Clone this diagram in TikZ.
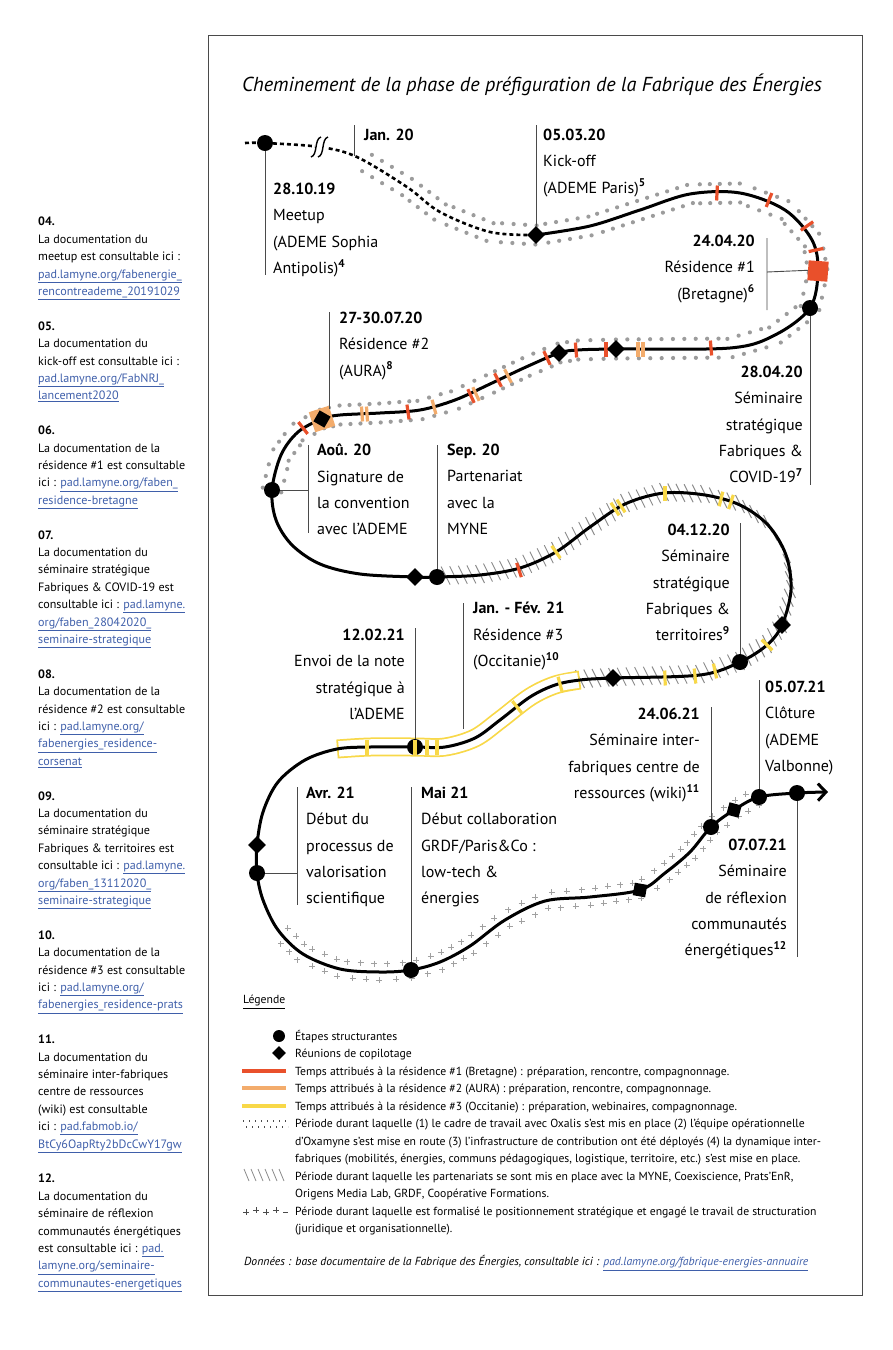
\documentclass[tikz,border=0pt]{standalone}
\usepackage{fontspec}
\setmainfont{PT Sans}
\usetikzlibrary{shapes, shapes.geometric, arrows.meta, positioning}

\definecolor{resBretagne}{HTML}{E9502B}
\definecolor{resAura}{HTML}{F3AC6C}
\definecolor{resOccitanie}{HTML}{F8D848}
\definecolor{lienbleu}{HTML}{3F5FAA}
\definecolor{halogris}{HTML}{9C9C9C}
\definecolor{hachuregris}{HTML}{8A8A8A}
\definecolor{croixgris}{HTML}{A0A0A0}
\definecolor{trait}{HTML}{4A4A4A}

\newcommand{\fontlabel}{\fontsize{16}{26.3}\selectfont}
\newcommand{\fontlegende}{\fontsize{11.7}{17.5}\selectfont}
\newcommand{\fontnotes}{\fontsize{12.1}{17.4}\selectfont}
\newcommand{\lien}[1]{{\color{lienbleu}\underline{#1}}}

\tikzset{
  etape/.style={circle, fill=black, minimum size=16, inner sep=0},
  copil/.style={diamond, fill=black, minimum size=18, inner sep=0},
  tiret/.style={rectangle, inner sep=0, minimum width=3.2, minimum height=15},
  repere/.style={draw=trait, line width=0.9},
  etiq/.style={inner sep=0, font=\fontlabel, align=left, anchor=north west},
  etiqd/.style={inner sep=0, font=\fontlabel, align=right, anchor=north east},
  trace/.style={smooth, tension=0.55}
}

\begin{document}
\begin{tikzpicture}[x=1pt, y=-1pt]
  \useasboundingbox (0,0) rectangle (893,1350);
  \draw[trait, line width=1] (208,35) rectangle (862,1295);
  \node[font=\fontsize{20.2}{24}\selectfont\itshape] (titre) at (532,85) {Cheminement de la phase de préfiguration de la Fabrique des Énergies};

  % periode 1 : points gris de part et d'autre du trace
  \foreach \bx/\by [remember=\bx as \ax (initially 357), remember=\by as \ay (initially 157)] in
    {407/187, 440/212, 490/232, 536/235, 590/226, 640/210, 690/194, 740/193, 785/210, 812/240, 818/271, 810/308,
     775/335, 730/348, 616/349, 578/350, 559/353, 526/367, 490/384, 455/400, 420/410, 380/413, 340/415, 322/419,
     298/432, 281/455, 272/490}{
    \pgfmathsetmacro{\hx}{\bx-\ax}
    \pgfmathsetmacro{\hy}{\by-\ay}
    \pgfmathsetmacro{\seglen}{veclen(\hx,\hy)}
    \pgfmathtruncatemacro{\nb}{max(1,round(\seglen/11))}
    \foreach \k in {1,...,\nb}{
      \fill[halogris] ({\ax+\hx*\k/\nb-9.5*\hy/\seglen},{\ay+\hy*\k/\nb+9.5*\hx/\seglen}) circle (2.1pt);
      \fill[halogris] ({\ax+\hx*\k/\nb+9.5*\hy/\seglen},{\ay+\hy*\k/\nb-9.5*\hx/\seglen}) circle (2.1pt);
    }
  }
  % periode 2 : hachures
  \foreach \bx/\by [remember=\bx as \ax (initially 437), remember=\by as \ay (initially 577)] in
    {480/575, 520/568, 556/552, 590/527, 625/504, 664/493, 705/495, 740/505, 768/525, 786/555, 791/590, 782/625,
     767/645, 740/662, 700/675, 613/678, 580/680}{
    \pgfmathsetmacro{\hx}{\bx-\ax}
    \pgfmathsetmacro{\hy}{\by-\ay}
    \pgfmathsetmacro{\seglen}{veclen(\hx,\hy)}
    \pgfmathtruncatemacro{\nb}{max(1,round(\seglen/8.5))}
    \foreach \k in {1,...,\nb}{
      \draw[hachuregris, line width=0.9] ({\ax+\hx*\k/\nb-4.5},{\ay+\hy*\k/\nb-10}) -- ++(9,18);
    }
  }
  % periode 3 : croix
  \foreach \bx/\by [remember=\bx as \ax (initially 278), remember=\by as \ay (initially 930)] in
    {303/954, 340/969, 380/972, 411/970, 440/962, 470/946, 505/920, 545/901, 590/897, 640/890, 665/873, 690/852,
     711/827, 734/810, 755/798}{
    \pgfmathsetmacro{\hx}{\bx-\ax}
    \pgfmathsetmacro{\hy}{\by-\ay}
    \pgfmathsetmacro{\seglen}{veclen(\hx,\hy)}
    \pgfmathtruncatemacro{\nb}{max(1,round(\seglen/13))}
    \foreach \k in {1,...,\nb}{
      \draw[croixgris, line width=0.7] ({\ax+\hx*\k/\nb-8*\hy/\seglen-3},{\ay+\hy*\k/\nb+8*\hx/\seglen}) -- ++(6,0) ++(-3,-3) -- ++(0,6);
      \draw[croixgris, line width=0.7] ({\ax+\hx*(\k-0.5)/\nb+8*\hy/\seglen-3},{\ay+\hy*(\k-0.5)/\nb-8*\hx/\seglen}) -- ++(6,0) ++(-3,-3) -- ++(0,6);
    }
  }
  % residence 3 : bande jaune
  \draw[resOccitanie, line width=19] plot[trace] coordinates {(580,680) (555,685) (530,697) (500,720) (475,738) (445,747) (415,747) (370,747) (337,749)};
  \draw[white, line width=15.5, shorten <=1.8pt, shorten >=1.8pt] plot[trace] coordinates {(580,680) (555,685) (530,697) (500,720) (475,738) (445,747) (415,747) (370,747) (337,749)};

  % le trace
  \draw[line width=2.6, dash pattern=on 4pt off 3pt] plot[trace] coordinates {(245,143) (265,143) (320,147) (357,157) (407,187) (440,212) (490,232) (536,235)};
  \draw[line width=3, -{Straight Barb[length=8pt, width=17pt]}] plot[trace] coordinates {(536,235) (590,226) (640,210) (690,194) (740,193) (785,210) (812,240) (818,271) (810,308) (775,335) (730,348) (616,349) (578,350) (559,353) (526,367) (490,384) (455,400) (420,410) (380,413) (340,415) (322,419) (298,432) (281,455) (272,490) (276,520) (292,545) (320,564) (360,574) (415,577) (437,577) (480,575) (520,568) (556,552) (590,527) (625,504) (664,493) (705,495) (740,505) (768,525) (786,555) (791,590) (782,625) (767,645) (740,662) (700,675) (613,678) (580,680) (555,685) (530,697) (500,720) (475,738) (445,747) (415,747) (370,747) (337,749) (305,760) (278,782) (263,812) (257,845) (257,873) (263,900) (278,930) (303,954) (340,969) (380,972) (411,970) (440,962) (470,946) (505,920) (545,901) (590,897) (640,890) (665,873) (690,852) (711,827) (734,810) (759,797) (797,793) (828,792)};
  \fill[white] (315,139) rectangle (326,156);
  \draw[line width=1.4] (311,157) .. controls (318,155) and (314,139) .. (321,137)
                        (318,157) .. controls (325,155) and (321,139) .. (328,137);

  % temps des residences
  \node[tiret, fill=resBretagne, rotate=-3] (rb1) at (717,193) {};
  \node[tiret, fill=resBretagne, rotate=-22] (rb2) at (769,200) {};
  \node[tiret, fill=resBretagne, rotate=-55] (rb3) at (807,226) {};
  \node[tiret, fill=resBretagne, rotate=-78] (rb4) at (816,250) {};
  \node[tiret, fill=resBretagne, rotate=5] (rb5) at (711,348) {};
  \node[tiret, fill=resBretagne] (rb6) at (606,349) {};
  \node[tiret, fill=resBretagne, rotate=5] (rb7) at (576,350) {};
  \node[tiret, fill=resBretagne, rotate=25] (rb8) at (547,358) {};
  \node[tiret, fill=resBretagne, rotate=27] (rb9) at (498,380) {};
  \node[tiret, fill=resBretagne, rotate=25] (rb10) at (471,396) {};
  \node[tiret, fill=resBretagne, rotate=8] (rb11) at (408,412) {};
  \node[tiret, fill=resBretagne, rotate=38] (rb12) at (303,428) {};
  \node[tiret, fill=resBretagne, rotate=18] (rb13) at (519,570) {};
  \node[tiret, fill=resAura] (ra1) at (638,349) {};
  \node[tiret, fill=resAura] (ra2) at (643,349) {};
  \node[tiret, fill=resAura, rotate=27] (ra3) at (508,376) {};
  \node[tiret, fill=resAura, rotate=25] (ra4) at (476,394) {};
  \node[tiret, fill=resAura, rotate=15] (ra5) at (434,407) {};
  \node[tiret, fill=resAura, rotate=4] (ra6) at (362,414) {};
  \node[tiret, fill=resAura, rotate=4] (ra7) at (367,414) {};
  \node[tiret, fill=resOccitanie, rotate=35] (ro1) at (556,552) {};
  \node[tiret, fill=resOccitanie, rotate=33] (ro2) at (615,509) {};
  \node[tiret, fill=resOccitanie, rotate=33] (ro3) at (621,506) {};
  \node[tiret, fill=resOccitanie] (ro4) at (665,493) {};
  \node[tiret, fill=resOccitanie, rotate=-14] (ro5) at (721,499) {};
  \node[tiret, fill=resOccitanie, rotate=-18] (ro6) at (731,502) {};
  \node[tiret, fill=resOccitanie, rotate=45] (ro7) at (767,645) {};
  \node[tiret, fill=resOccitanie, rotate=12] (ro8) at (715,671) {};
  \node[tiret, fill=resOccitanie, rotate=6] (ro9) at (695,676) {};
  \node[tiret, fill=resOccitanie, rotate=2] (ro10) at (665,678) {};
  \node[tiret, fill=resOccitanie, rotate=15] (ro11) at (560,684) {};
  \node[tiret, fill=resOccitanie, rotate=38] (ro12) at (517,707) {};
  \node[tiret, fill=resOccitanie] (ro13) at (437,747) {};
  \node[tiret, fill=resOccitanie] (ro14) at (427,747) {};
  \node[tiret, fill=resOccitanie] (ro15) at (367,747) {};

  % etapes et reunions
  \node[etape] (meetup) at (265,143) {};
  \node[copil] (kickoff) at (536,235) {};
  \node[rectangle, fill=resBretagne, minimum size=20, inner sep=0, rotate=-4] (bretagne) at (818,271) {};
  \node[etape] (covid) at (810,308) {};
  \node[copil] (copilA) at (616,349) {};
  \node[copil] (copilB) at (559,353) {};
  \node[rectangle, fill=resAura, minimum size=21, inner sep=0, rotate=18] (aura) at (322,419) {};
  \node[copil, rotate=15] (copilC) at (322,419) {};
  \node[etape] (convention) at (272,490) {};
  \node[copil] (copilD) at (415,577) {};
  \node[etape] (myne) at (437,577) {};
  \node[copil] (copilE) at (782,625) {};
  \node[etape] (territoires) at (740,662) {};
  \node[copil] (copilF) at (613,678) {};
  \node[etape] (note) at (415,747) {};
  \node[tiret, fill=resOccitanie] (noteoc) at (415,747) {};
  \node[copil] (copilG) at (257,845) {};
  \node[etape] (valorisation) at (257,873) {};
  \node[etape] (grdf) at (411,970) {};
  \node[copil, rotate=35] (copilH) at (640,890) {};
  \node[etape] (wiki) at (711,827) {};
  \node[copil, rotate=30] (copilI) at (734,810) {};
  \node[etape] (cloture) at (759,797) {};
  \node[etape] (reflexion) at (797,793) {};

  % reperes
  \coordinate (meetupbas) at (265,275);
  \coordinate (janhaut) at (354,125);
  \coordinate (janbas) at (354,156);
  \coordinate (kickhaut) at (536,125);
  \coordinate (bretcoin) at (767,272);
  \coordinate (brethaut) at (767,238);
  \coordinate (bretbas) at (767,310);
  \coordinate (covidbas) at (810,485);
  \coordinate (aurahaut) at (329,312);
  \coordinate (aurabas) at (329,409);
  \coordinate (aoutcoin) at (308,490);
  \coordinate (aouthaut) at (308,445);
  \coordinate (aoutbas) at (308,533);
  \coordinate (mynehaut) at (437,445);
  \coordinate (terrhaut) at (740,523);
  \coordinate (occhaut) at (463,603);
  \coordinate (occbas) at (463,729);
  \coordinate (notehaut) at (415,628);
  \coordinate (wikihaut) at (711,707);
  \coordinate (clothaut) at (759,680);
  \coordinate (avrcoin) at (297,873);
  \coordinate (avrhaut) at (297,787);
  \coordinate (avrbas) at (297,905);
  \coordinate (grdfhaut) at (411,787);
  \coordinate (reflbas) at (797,957);
  \draw[repere] (meetup.south) -- (meetupbas);
  \draw[repere] (janhaut) -- (janbas);
  \draw[repere] (kickoff.north) -- (kickhaut);
  \draw[repere] (brethaut) -- (bretbas) (bretcoin) -- (bretagne.west);
  \draw[repere] (covid.south) -- (covidbas);
  \draw[repere] (aurahaut) -- (aurabas);
  \draw[repere] (convention.east) -- (aoutcoin) (aouthaut) -- (aoutbas);
  \draw[repere] (myne.north) -- (mynehaut);
  \draw[repere] (territoires.north) -- (terrhaut);
  \draw[repere] (occhaut) -- (occbas);
  \draw[repere] (note.north) -- (notehaut);
  \draw[repere] (wiki.north) -- (wikihaut);
  \draw[repere] (cloture.north) -- (clothaut);
  \draw[repere] (valorisation.east) -- (avrcoin) (avrhaut) -- (avrbas);
  \draw[repere] (grdf.north) -- (grdfhaut);
  \draw[repere] (reflexion.south) -- (reflbas);

  % textes
  \node[etiq] (t-meetup) at (273,183) {\textbf{28.10.19}\\Meetup\\(ADEME Sophia\\Antipolis)\textsuperscript{\textbf{4}}};
  \node[etiq] (t-jan) at (364,129) {\textbf{Jan. 20}};
  \node[etiq] (t-kickoff) at (543,129) {\textbf{05.03.20}\\Kick-off\\(ADEME Paris)\textsuperscript{\textbf{5}}};
  \node[etiqd] (t-bretagne) at (755,235) {\textbf{24.04.20}\\Résidence \#1\\(Bretagne)\textsuperscript{\textbf{6}}};
  \node[etiqd] (t-covid) at (803,366) {\textbf{28.04.20}\\Séminaire\\stratégique\\Fabriques \&\\COVID-19\textsuperscript{\textbf{7}}};
  \node[etiq] (t-aura) at (339,312) {\textbf{27-30.07.20}\\Résidence \#2\\(AURA)\textsuperscript{\textbf{8}}};
  \node[etiq] (t-convention) at (317,444) {\textbf{Aoû. 20}\\Signature de\\la convention\\avec l’ADEME};
  \node[etiq] (t-myne) at (447,444) {\textbf{Sep. 20}\\Partenariat\\avec la\\MYNE};
  \node[etiqd] (t-territoires) at (730,524) {\textbf{04.12.20}\\Séminaire\\stratégique\\Fabriques \&\\territoires\textsuperscript{\textbf{9}}};
  \node[etiq] (t-occitanie) at (473,602) {\textbf{Jan. - Fév. 21}\\Résidence \#3\\(Occitanie)\textsuperscript{\textbf{10}}};
  \node[etiqd] (t-note) at (405,629) {\textbf{12.02.21}\\Envoi de la note\\stratégique à\\l’ADEME};
  \node[etiqd] (t-wiki) at (700,708) {\textbf{24.06.21}\\Séminaire inter-\\fabriques centre de\\ressources (wiki)\textsuperscript{\textbf{11}}};
  \node[etiq] (t-cloture) at (765,681) {\textbf{05.07.21}\\Clôture\\(ADEME\\Valbonne)};
  \node[etiq] (t-valorisation) at (306,787) {\textbf{Avr. 21}\\Début du\\processus de\\valorisation\\scientifique};
  \node[etiq] (t-grdf) at (421,787) {\textbf{Mai 21}\\Début collaboration\\GRDF/Paris\&Co :\\low-tech \&\\énergies};
  \node[etiqd] (t-reflexion) at (787,839) {\textbf{07.07.21}\\Séminaire\\de réflexion\\communautés\\énergétiques\textsuperscript{\textbf{12}}};

  % legende
  \node[font=\fontlegende, anchor=west, inner sep=0] (legende) at (243,1002) {\underline{Légende}};
  \node[etape, minimum size=12] (leg-etape) at (279,1036) {};
  \node[copil, minimum size=14] (leg-copil) at (279,1053) {};
  \draw[resBretagne, line width=4] (242,1071) -- (286,1071);
  \draw[resAura, line width=4] (242,1088) -- (286,1088);
  \draw[resOccitanie, line width=4] (242,1106) -- (286,1106);
  \draw[trait, line width=1.3, dash pattern=on 1.3pt off 4.7pt] (243,1121) -- (288,1121);
  \draw[trait, line width=1.3, dash pattern=on 1.3pt off 4.7pt, dash phase=3pt] (243,1127) -- (288,1127);
  \draw[hachuregris, line width=0.8] (244,1169) -- ++(5,12) (251,1169) -- ++(5,12) (258,1169) -- ++(5,12)
        (265,1169) -- ++(5,12) (272,1169) -- ++(5,12) (279,1169) -- ++(5,12);
  \draw[trait, line width=0.6] (243,1212) -- ++(6,0) (246,1209) -- ++(0,6) (253,1210) -- ++(6,0) (256,1207) -- ++(0,6)
        (263,1212) -- ++(6,0) (266,1209) -- ++(0,6) (273,1210) -- ++(6,0) (276,1207) -- ++(0,6) (283,1212) -- ++(5,0);
  \node[inner sep=0, font=\fontlegende, align=left, anchor=north west] (leg-textes) at (295,1030) {%
    Étapes structurantes\\
    Réunions de copilotage\\
    Temps attribués à la résidence \#1 (Bretagne) : préparation, rencontre, compagnonnage.\\
    Temps attribués à la résidence \#2 (AURA) : préparation, rencontre, compagnonnage.\\
    Temps attribués à la résidence \#3 (Occitanie) : préparation, webinaires, compagnonnage.\\
    Période durant laquelle (1) le cadre de travail avec Oxalis s’est mis en place (2) l’équipe opérationnelle\\
    d’Oxamyne s’est mise en route (3) l’infrastructure de contribution ont été déployés (4) la dynamique inter-\\
    fabriques (mobilités, énergies, communs pédagogiques, logistique, territoire, etc.) s’est mise en place.\\
    Période durant laquelle les partenariats se sont mis en place avec la MYNE, Coexiscience, Prats’EnR,\\
    Origens Media Lab, GRDF, Coopérative Formations.\\
    Période durant laquelle est formalisé le positionnement stratégique et engagé le travail de structuration\\
    (juridique et organisationnelle).};
  \node[inner sep=0, anchor=west, font=\fontlegende\itshape] (donnees) at (244,1263) {Données : base documentaire de la Fabrique des Énergies, consultable ici : \lien{pad.lamyne.org/fabrique-energies-annuaire}};

  % notes en marge
  \node[inner sep=0, font=\fontnotes, align=left, anchor=north west] (notes) at (38,217) {%
    \textbf{04.}\\
    La documentation du\\
    meetup est consultable ici :\\
    \lien{pad.lamyne.org/fabenergie\_}\\
    \lien{rencontreademe\_20191029}\\[17.4pt]
    \textbf{05.}\\
    La documentation du\\
    kick-off est consultable ici :\\
    \lien{pad.lamyne.org/FabNRJ\_}\\
    \lien{lancement2020}\\[17.4pt]
    \textbf{06.}\\
    La documentation de la\\
    résidence \#1 est consultable\\
    ici : \lien{pad.lamyne.org/faben\_}\\
    \lien{residence-bretagne}\\[17.4pt]
    \textbf{07.}\\
    La documentation du\\
    séminaire stratégique\\
    Fabriques \& COVID-19 est\\
    consultable ici : \lien{pad.lamyne.}\\
    \lien{org/faben\_28042020\_}\\
    \lien{seminaire-strategique}\\[17.4pt]
    \textbf{08.}\\
    La documentation de la\\
    résidence \#2 est consultable\\
    ici : \lien{pad.lamyne.org/}\\
    \lien{fabenergies\_residence-}\\
    \lien{corsenat}\\[17.4pt]
    \textbf{09.}\\
    La documentation du\\
    séminaire stratégique\\
    Fabriques \& territoires est\\
    consultable ici : \lien{pad.lamyne.}\\
    \lien{org/faben\_13112020\_}\\
    \lien{seminaire-strategique}\\[17.4pt]
    \textbf{10.}\\
    La documentation de la\\
    résidence \#3 est consultable\\
    ici : \lien{pad.lamyne.org/}\\
    \lien{fabenergies\_residence-prats}\\[17.4pt]
    \textbf{11.}\\
    La documentation du\\
    séminaire inter-fabriques\\
    centre de ressources\\
    (wiki) est consultable\\
    ici : \lien{pad.fabmob.io/}\\
    \lien{BtCy6OapRty2bDcCwY17gw}\\[17.4pt]
    \textbf{12.}\\
    La documentation du\\
    séminaire de réflexion\\
    communautés énergétiques\\
    est consultable ici : \lien{pad.}\\
    \lien{lamyne.org/seminaire-}\\
    \lien{communautes-energetiques}};
\end{tikzpicture}
\end{document}
